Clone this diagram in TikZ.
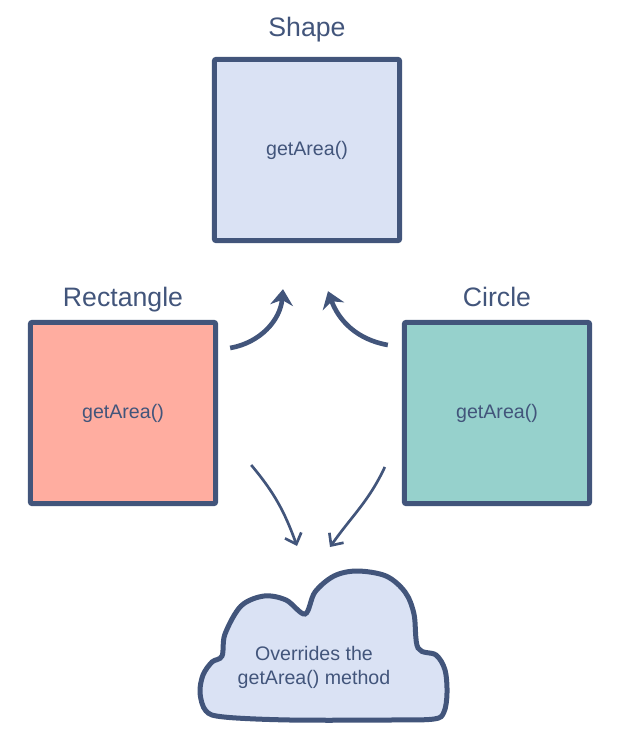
\documentclass[tikz,border=0pt]{standalone}
\usepackage{fontspec}
\setmainfont{Liberation Sans}
\usetikzlibrary{arrows.meta,positioning}
\definecolor{ink}{HTML}{42557B}
\definecolor{shapefill}{HTML}{DAE2F4}
\definecolor{rectfill}{HTML}{FFADA0}
\definecolor{circfill}{HTML}{96D1CC}

\begin{document}
\begin{tikzpicture}[x=0.75pt,y=-0.75pt,>={Stealth[length=12pt,width=17pt]},
  box/.style={draw=ink,line width=3.75pt,rounded corners=1.5pt,minimum width=139pt,minimum height=136pt,text=ink,font=\fontsize{14.7}{18}\selectfont},
  title/.style={text=ink,font=\fontsize{20}{24}\selectfont,inner sep=0pt,text depth=0pt},
  bigarrow/.style={->,draw=ink,line width=3.5pt},
  thinarrow/.style={-{Straight Barb[length=7pt,width=13pt]},draw=ink,line width=2pt}]
\useasboundingbox (0,0) rectangle (630,734);
\node[box,fill=shapefill] (shape) at (307,150) {getArea()};
\node[box,fill=rectfill] (rect) at (123,413) {getArea()};
\node[box,fill=circfill] (circ) at (497,413) {getArea()};
\node[title,above=15pt of shape] (shapetitle) {Shape};
\node[title,above=9.75pt of rect] (recttitle) {Rectangle};
\node[title,above=9.75pt of circ] (circtitle) {Circle};
% cloud outline, then its text
\filldraw[draw=ink,fill=shapefill,line width=3.75pt] plot[smooth cycle,tension=0.55] coordinates {
  (225,634) (241,606) (264,596) (286,600) (305,614) (315,592) (334,576) (357,571)
  (386,576) (405,592) (414,614) (418,648) (436,655) (445,670) (447,693) (444,712)
  (434,719) (390,720) (290,720) (224,717) (206,711) (200,693) (203,675) (212,662) (222,656)};
\node[text=ink,align=center,font=\fontsize{14.7}{18}\selectfont] (cloud) at (314,667) {Overrides the\\getArea() method};
\draw[bigarrow] ([shift={(12,-65)}]rect.east) to[out=10,in=-95] ([shift={(-24,46)}]shape.south);
\draw[bigarrow] ([shift={(-14,-68)}]circ.west) to[out=170,in=-70] ([shift={(21,48)}]shape.south);
\draw[thinarrow] ([shift={(33,52)}]rect.east) to[out=-50,in=110] ([shift={(-17,-121)}]cloud.center);
\draw[thinarrow] ([shift={(-17,54)}]circ.west) to[out=-115,in=55] ([shift={(16,-120)}]cloud.center);
\end{tikzpicture}
\end{document}
